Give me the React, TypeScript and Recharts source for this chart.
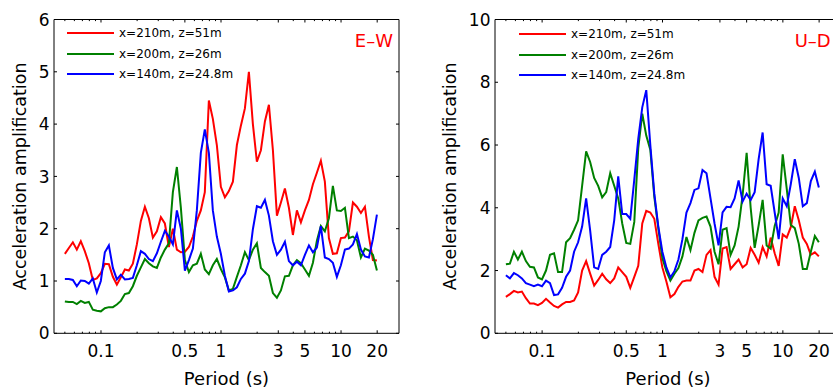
import React from "react";
import { LineChart, Line, XAxis, YAxis, Legend } from "recharts";

const FONT = '"DejaVu Sans", "Liberation Sans", Arial, sans-serif';

// Period (s), log spaced
const periods = [
  0.05, 0.054, 0.0583, 0.0629, 0.0679, 0.0733, 0.0792, 0.0855, 0.0923, 0.0997,
  0.1077, 0.1163, 0.1256, 0.1356, 0.1464, 0.1581, 0.1707, 0.1843, 0.199, 0.2149,
  0.2321, 0.2506, 0.2706, 0.2922, 0.3155, 0.3406, 0.3678, 0.3971, 0.4288, 0.463,
  0.5, 0.54, 0.583, 0.629, 0.679, 0.733, 0.792, 0.855, 0.923, 0.997,
  1.077, 1.163, 1.256, 1.356, 1.464, 1.581, 1.707, 1.843, 1.99, 2.149,
  2.321, 2.506, 2.706, 2.922, 3.155, 3.406, 3.678, 3.971, 4.288, 4.63,
  5.0, 5.4, 5.83, 6.29, 6.79, 7.33, 7.92, 8.55, 9.23, 9.97,
  10.77, 11.63, 12.56, 13.56, 14.64, 15.81, 17.07, 18.43, 19.9,
];

// E-W component
const ewRed = [
  1.52, 1.63, 1.74, 1.6, 1.76, 1.57, 1.34, 1.02, 1.05, 1.15,
  1.33, 1.32, 1.08, 0.93, 1.07, 1.22, 1.2, 1.33, 1.7, 2.15,
  2.42, 2.2, 1.83, 1.95, 2.22, 2.1, 1.65, 2.0, 1.6, 1.55,
  1.56, 1.65, 1.85, 2.15, 2.35, 2.7, 4.45, 4.1, 3.6, 2.8,
  2.6, 2.72, 2.9, 3.6, 3.97, 4.3, 5.0, 4.0, 3.28, 3.5,
  4.05, 4.37, 3.5, 2.25, 2.5, 2.77, 2.4, 1.88, 2.35, 2.12,
  2.35, 2.55, 2.85, 3.07, 3.3, 2.9, 1.82, 1.52, 1.53, 1.82,
  1.83, 1.95, 2.5, 2.42, 2.3, 2.42, 1.85, 1.4, 1.39,
];
const ewGreen = [
  0.61, 0.6, 0.6, 0.56, 0.62, 0.58, 0.6, 0.45, 0.43, 0.42,
  0.48, 0.5, 0.5, 0.55, 0.62, 0.75, 0.77, 0.9, 1.1, 1.26,
  1.42, 1.34, 1.28, 1.25, 1.45, 1.6, 1.72, 2.7, 3.18, 2.4,
  1.4, 1.17, 1.3, 1.33, 1.52, 1.22, 1.13, 1.3, 1.42, 1.23,
  1.07, 0.82, 0.85, 1.08, 1.3, 1.55, 1.4, 1.6, 1.72, 1.25,
  1.17, 1.1, 0.77, 0.68, 0.82, 1.09, 1.1, 1.3, 1.4, 1.34,
  1.22, 1.1, 1.35, 1.77, 2.05, 1.95, 2.2, 2.82, 2.35, 2.34,
  2.4, 1.82, 1.85, 1.78, 1.45, 1.62, 1.58, 1.5, 1.2,
];
const ewBlue = [
  1.04, 1.04, 1.02, 0.9, 1.01, 1.0, 0.95, 1.05, 0.78, 1.0,
  1.55, 1.68, 1.25, 1.03, 1.12, 1.03, 1.04, 1.06, 1.3, 1.57,
  1.52, 1.42, 1.38, 1.53, 1.75, 1.96, 1.85, 1.7, 2.35, 2.0,
  1.2, 1.4, 1.62, 2.35, 3.45, 3.9, 3.45, 2.35, 1.85, 1.52,
  1.1, 0.8, 0.82, 0.88, 1.04, 1.14, 1.38, 1.99, 2.43, 2.4,
  2.55, 2.25, 1.76, 1.5, 1.6, 1.75, 1.38, 1.3, 1.37, 1.3,
  1.5, 1.68, 1.55, 1.64, 2.05, 1.45, 1.42, 1.35, 1.08, 1.3,
  1.6, 1.62, 1.7, 1.9, 1.6, 1.47, 1.45, 1.8, 2.27,
];

// U-D component
const udRed = [
  1.16, 1.25, 1.35, 1.3, 1.33, 1.12, 0.95, 0.95, 0.9, 0.97,
  1.1, 0.98, 0.87, 0.82, 0.92, 1.0, 1.0, 1.05, 1.3, 2.0,
  2.3, 1.9, 1.52, 1.7, 1.9, 1.72, 1.6, 1.75, 2.1, 1.95,
  1.8, 1.45, 1.8, 2.15, 3.5, 3.9, 3.85, 3.65, 2.85, 2.1,
  1.65, 1.15, 1.25, 1.48, 1.65, 1.68, 1.68, 2.0, 2.05, 1.95,
  2.5, 2.65, 1.8, 1.55, 2.7, 2.75, 2.05, 2.2, 2.35, 2.1,
  2.2, 2.72, 2.5, 2.25, 2.75, 2.45, 3.05, 2.55, 2.15, 3.15,
  3.05, 3.38, 4.05, 3.6, 3.05, 2.85, 2.5, 2.58, 2.45,
];
const udGreen = [
  2.2, 2.22, 2.6, 2.35, 2.6, 2.3, 2.12, 2.1, 1.78, 1.72,
  2.0, 2.5, 2.55, 1.95, 1.95, 2.9, 3.03, 3.3, 3.6, 4.7,
  5.8, 5.46, 4.95, 4.7, 4.33, 4.5, 5.1, 4.7, 4.3, 3.5,
  2.88, 2.85, 3.55, 5.9, 7.0, 6.3, 5.85, 4.35, 3.35, 2.4,
  1.98, 1.68, 1.9, 2.08, 2.45, 3.07, 2.65, 3.2, 3.6, 3.68,
  3.72, 3.4, 2.6, 2.2, 3.3, 3.35, 2.5, 2.8, 3.4, 4.4,
  5.75, 4.0, 2.72, 3.44, 4.25, 2.8, 2.7, 3.42, 3.85, 5.7,
  4.6, 3.45, 3.35, 2.85, 2.05, 2.05, 2.6, 3.1, 2.9,
];
const udBlue = [
  1.85, 1.75, 1.92, 1.85, 1.75, 1.6, 1.55, 1.5, 1.55, 1.5,
  1.68, 1.6, 1.22, 1.24, 1.45, 1.8, 2.0, 2.6, 2.9, 3.4,
  4.3, 3.28, 2.1, 2.05, 2.5, 2.6, 2.75, 3.6, 5.0, 3.8,
  3.8, 3.65, 4.9, 6.2, 7.2, 7.75, 6.0, 4.45, 3.4, 2.6,
  2.1, 1.78, 1.98, 2.35, 3.0, 3.85, 4.15, 4.57, 4.62, 5.2,
  5.1, 4.3, 3.5, 2.8, 3.85, 4.03, 4.02, 4.3, 4.87, 4.2,
  4.45, 4.25, 4.5, 5.55, 6.4, 4.75, 4.7, 3.85, 3.0, 4.3,
  4.05, 4.75, 5.55, 4.95, 4.05, 4.15, 4.85, 5.15, 4.65,
];

const stations = ["x=210m, z=51m", "x=200m, z=26m", "x=140m, z=24.8m"];
const colors = ["#ff0000", "#008000", "#0000ff"];

const majorTicks = [0.1, 0.5, 1, 3, 5, 10, 20];
const minorTicks = [0.05, 0.06, 0.07, 0.08, 0.09, 0.2, 0.3, 0.4, 0.6, 0.7, 0.8, 0.9, 2, 4, 6, 7, 8, 9];
const xTicks = [...minorTicks, ...majorTicks].sort((a, b) => a - b);
const ewTicks = [0, 1, 2, 3, 4, 5, 6];
const udTicks = [0, 2, 4, 6, 8, 10];

const X_DOMAIN: [number, number] = [0.0406, 30.4];
const PLOT_TOP = 19.5;
const PLOT_BOTTOM = 333.3;
const CHART_H = 391;

function BottomTick(props: any) {
  const { x, y, payload } = props;
  const major = majorTicks.includes(payload.value);
  return (
    <g>
      <line x1={x} x2={x} y1={y} y2={y - (major ? 3 : 1.6)} stroke="#000" />
      {major && (
        <text x={x} y={y + 24} textAnchor="middle" fontSize={17} fontFamily={FONT} fill="#000">
          {payload.value}
        </text>
      )}
    </g>
  );
}

// top/right axes close the box; 1px wide so recharts still draws them
function TopTick(props: any) {
  const { x, payload } = props;
  const major = majorTicks.includes(payload.value);
  return <line x1={x} x2={x} y1={PLOT_TOP} y2={PLOT_TOP + (major ? 3 : 1.6)} stroke="#000" />;
}

function LeftTick(props: any) {
  const { x, y, payload } = props;
  return (
    <g>
      <line x1={x} x2={x + 3} y1={y} y2={y} stroke="#000" />
      <text x={x - 4.5} y={y} dy="0.36em" textAnchor="end" fontSize={17} fontFamily={FONT} fill="#000">
        {payload.value}
      </text>
    </g>
  );
}

function makeRightTick(plotRight: number) {
  return (props: any) => <line x1={plotRight} x2={plotRight - 3} y1={props.y} y2={props.y} stroke="#000" />;
}

function renderLegend(props: any) {
  const items = (props.payload ?? [])
    .filter((e: any) => stations.includes(e.value))
    .sort((a: any, b: any) => stations.indexOf(a.value) - stations.indexOf(b.value));
  return (
    <div style={{ fontFamily: FONT, fontSize: 12, color: "#000" }}>
      {items.map((e: any) => (
        <div key={e.value} style={{ display: "flex", alignItems: "center", height: 20.3 }}>
          <span style={{ display: "inline-block", width: 47, height: 2, background: e.color, marginRight: 5 }} />
          <span>{e.value}</span>
        </div>
      ))}
    </div>
  );
}

type PanelProps = {
  left: number;
  boxWidth: number;
  chartWidth: number;
  plotLeft: number;
  plotWidth: number;
  yMax: number;
  yTicks: number[];
  series: number[][];
  title: string;
  titleX: number;
  titleAnchor: "start" | "end";
  legendLeft: number;
  legendTop: number;
  yTitleX: number;
};

function Panel(p: PanelProps) {
  const data = periods.map((t, i) => ({ t, r: p.series[0][i], g: p.series[1][i], b: p.series[2][i] }));
  const keys = ["r", "g", "b"];
  const xAxisH = 40;
  const plotRight = p.plotLeft + p.plotWidth;
  const margin = {
    top: PLOT_TOP - 1,
    left: 0,
    right: p.chartWidth - plotRight - 1,
    bottom: CHART_H - PLOT_BOTTOM - xAxisH,
  };
  const midY = (PLOT_TOP + PLOT_BOTTOM) / 2;
  const RightTick = makeRightTick(plotRight);
  return (
    <div style={{ position: "absolute", left: p.left, top: 0, width: p.boxWidth, height: CHART_H, overflow: "hidden" }}>
      <LineChart width={p.chartWidth} height={CHART_H} data={data} margin={margin}>
        <XAxis
          dataKey="t"
          type="number"
          scale="log"
          domain={X_DOMAIN}
          allowDataOverflow
          ticks={xTicks}
          interval={0}
          height={xAxisH}
          tickSize={0}
          tickMargin={0}
          tickLine={false}
          axisLine={{ stroke: "#000" }}
          tick={<BottomTick />}
        />
        <XAxis
          xAxisId="top"
          orientation="top"
          dataKey="t"
          type="number"
          scale="log"
          domain={X_DOMAIN}
          allowDataOverflow
          ticks={xTicks}
          interval={0}
          height={1}
          tickSize={0}
          tickMargin={0}
          tickLine={false}
          axisLine={{ stroke: "#000" }}
          tick={<TopTick />}
        />
        <YAxis
          type="number"
          domain={[0, p.yMax]}
          ticks={p.yTicks}
          interval={0}
          width={p.plotLeft}
          tickSize={0}
          tickMargin={0}
          tickLine={false}
          axisLine={{ stroke: "#000" }}
          tick={<LeftTick />}
        />
        <YAxis
          yAxisId="right"
          orientation="right"
          type="number"
          domain={[0, p.yMax]}
          ticks={p.yTicks}
          interval={0}
          width={1}
          tickSize={0}
          tickMargin={0}
          tickLine={false}
          axisLine={{ stroke: "#000" }}
          tick={RightTick}
        />
        <Legend
          layout="vertical"
          align="center"
          verticalAlign="middle"
          content={renderLegend}
          wrapperStyle={{ left: p.legendLeft, top: p.legendTop, width: "auto" }}
        />
        {keys.map((k, i) => (
          <Line
            key={k}
            dataKey={k}
            name={stations[i]}
            stroke={colors[i]}
            strokeWidth={2}
            dot={false}
            activeDot={false}
            type="linear"
            isAnimationActive={false}
          />
        ))}
        <Line
          xAxisId="top"
          yAxisId="right"
          dataKey="r"
          name="frame"
          stroke="none"
          dot={false}
          activeDot={false}
          legendType="none"
          isAnimationActive={false}
        />
      </LineChart>
      <svg width={p.chartWidth} height={CHART_H} style={{ position: "absolute", left: 0, top: 0, pointerEvents: "none" }}>
        <text
          x={p.yTitleX}
          y={midY}
          transform={`rotate(-90, ${p.yTitleX}, ${midY})`}
          textAnchor="middle"
          fontSize={17.5}
          fontFamily={FONT}
          fill="#000"
        >
          Acceleration amplification
        </text>
        <text x={p.plotLeft + p.plotWidth / 2} y={385} textAnchor="middle" fontSize={18} fontFamily={FONT} fill="#000">
          Period (s)
        </text>
        <text x={p.titleX} y={47} textAnchor={p.titleAnchor} fontSize={18} fontFamily={FONT} fill="#ff0000">
          {p.title}
        </text>
      </svg>
    </div>
  );
}

export default function App() {
  return (
    <div style={{ position: "absolute", left: 0, top: 0, width: 833, height: 391, overflow: "hidden", background: "#fff" }}>
      <Panel
        left={0}
        boxWidth={413}
        chartWidth={413}
        plotLeft={54}
        plotWidth={345}
        yMax={6}
        yTicks={ewTicks}
        series={[ewRed, ewGreen, ewBlue]}
        title="E–W"
        titleX={393}
        titleAnchor="end"
        legendLeft={67}
        legendTop={23.2}
        yTitleX={26}
      />
      <Panel
        left={413}
        boxWidth={420}
        chartWidth={440}
        plotLeft={82}
        plotWidth={346}
        yMax={10}
        yTicks={udTicks}
        series={[udRed, udGreen, udBlue]}
        title="U–D"
        titleX={381.7}
        titleAnchor="start"
        legendLeft={106}
        legendTop={24.3}
        yTitleX={42.7}
      />
    </div>
  );
}
